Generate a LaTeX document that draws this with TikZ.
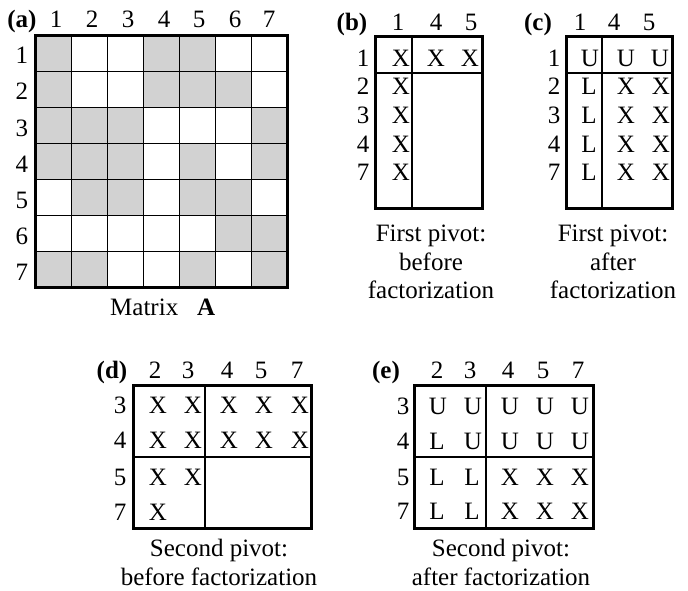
\documentclass[tikz,border=0pt]{standalone}
\usepackage{fontspec}
\setmainfont{Liberation Serif}
\usetikzlibrary{positioning}

\begin{document}
\begin{tikzpicture}[x=1pt,y=-1pt,
  ent/.style={font=\fontsize{25}{29}\selectfont,inner sep=0pt,anchor=base},
  tag/.style={ent,font=\fontsize{25}{29}\selectfont\bfseries},
  capt/.style={font=\fontsize{25}{28.5}\selectfont,inner sep=0pt,anchor=north,align=center},
  frame/.style={line width=3pt},
  thin line/.style={line width=1.2pt}]
\useasboundingbox (0,0) rectangle (688,591);

% (a) matrix A
\draw[fill=gray!35,draw=none] (35.5,35.5) rectangle (71.5,71.5);
\draw[fill=gray!35,draw=none] (143.5,35.5) rectangle (179.5,71.5);
\draw[fill=gray!35,draw=none] (179.5,35.5) rectangle (215.5,71.5);
\draw[fill=gray!35,draw=none] (35.5,71.5) rectangle (71.5,107.5);
\draw[fill=gray!35,draw=none] (143.5,71.5) rectangle (179.5,107.5);
\draw[fill=gray!35,draw=none] (179.5,71.5) rectangle (215.5,107.5);
\draw[fill=gray!35,draw=none] (215.5,71.5) rectangle (251.5,107.5);
\draw[fill=gray!35,draw=none] (35.5,107.5) rectangle (71.5,143.5);
\draw[fill=gray!35,draw=none] (71.5,107.5) rectangle (107.5,143.5);
\draw[fill=gray!35,draw=none] (107.5,107.5) rectangle (143.5,143.5);
\draw[fill=gray!35,draw=none] (251.5,107.5) rectangle (287.5,143.5);
\draw[fill=gray!35,draw=none] (35.5,143.5) rectangle (71.5,179.5);
\draw[fill=gray!35,draw=none] (71.5,143.5) rectangle (107.5,179.5);
\draw[fill=gray!35,draw=none] (107.5,143.5) rectangle (143.5,179.5);
\draw[fill=gray!35,draw=none] (179.5,143.5) rectangle (215.5,179.5);
\draw[fill=gray!35,draw=none] (251.5,143.5) rectangle (287.5,179.5);
\draw[fill=gray!35,draw=none] (71.5,179.5) rectangle (107.5,215.5);
\draw[fill=gray!35,draw=none] (107.5,179.5) rectangle (143.5,215.5);
\draw[fill=gray!35,draw=none] (179.5,179.5) rectangle (215.5,215.5);
\draw[fill=gray!35,draw=none] (215.5,179.5) rectangle (251.5,215.5);
\draw[fill=gray!35,draw=none] (215.5,215.5) rectangle (251.5,251.5);
\draw[fill=gray!35,draw=none] (251.5,215.5) rectangle (287.5,251.5);
\draw[fill=gray!35,draw=none] (35.5,251.5) rectangle (71.5,287.5);
\draw[fill=gray!35,draw=none] (71.5,251.5) rectangle (107.5,287.5);
\draw[fill=gray!35,draw=none] (179.5,251.5) rectangle (215.5,287.5);
\draw[fill=gray!35,draw=none] (251.5,251.5) rectangle (287.5,287.5);
\draw[thin line] (71.5,35.5) -- (71.5,287.5);
\draw[thin line] (107.5,35.5) -- (107.5,287.5);
\draw[thin line] (143.5,35.5) -- (143.5,287.5);
\draw[thin line] (179.5,35.5) -- (179.5,287.5);
\draw[thin line] (215.5,35.5) -- (215.5,287.5);
\draw[thin line] (251.5,35.5) -- (251.5,287.5);
\draw[thin line] (35.5,71.5) -- (287.5,71.5);
\draw[thin line] (35.5,107.5) -- (287.5,107.5);
\draw[thin line] (35.5,143.5) -- (287.5,143.5);
\draw[thin line] (35.5,179.5) -- (287.5,179.5);
\draw[thin line] (35.5,215.5) -- (287.5,215.5);
\draw[thin line] (35.5,251.5) -- (287.5,251.5);
\draw[frame] (35.5,35.5) rectangle (287.5,287.5);
\node[tag] (taga) at (22,28) {(a)};
\node[ent] (ac1) at (56,28) {1};
\node[ent] (ac2) at (92,28) {2};
\node[ent] (ac3) at (128,28) {3};
\node[ent] (ac4) at (164,28) {4};
\node[ent] (ac5) at (199,28) {5};
\node[ent] (ac6) at (235,28) {6};
\node[ent] (ac7) at (269,28) {7};
\node[ent] (ar1) at (22,64) {1};
\node[ent] (ar2) at (22,100) {2};
\node[ent] (ar3) at (22,136) {3};
\node[ent] (ar4) at (22,172) {4};
\node[ent] (ar5) at (22,208) {5};
\node[ent] (ar6) at (22,244) {6};
\node[ent] (ar7) at (22,280) {7};
\node[ent,anchor=base west] (capa) at (110,315) {Matrix\hspace{19pt}\textbf{A}};

% (b) first pivot, before
\draw[thin line] (375,73) -- (482,73);
\draw[thin line] (412,37) -- (412,208);
\draw[frame] (375,37) rectangle (482,208);
\node[tag] (tagb) at (352,31) {(b)};
\node[ent] (bc1) at (398,31) {1};
\node[ent] (bc4) at (436,31) {4};
\node[ent] (bc5) at (471,31) {5};
\node[ent] (br1) at (363,67) {1};
\node[ent] (br2) at (363,95) {2};
\node[ent] (br3) at (363,124) {3};
\node[ent] (br4) at (363,153) {4};
\node[ent] (br7) at (363,180) {7};
\node[ent] (b11) at (401,67) {X};
\node[ent] (b14) at (436,67) {X};
\node[ent] (b15) at (470,67) {X};
\node[ent] (b21) at (401,95) {X};
\node[ent] (b31) at (401,124) {X};
\node[ent] (b41) at (401,153) {X};
\node[ent] (b71) at (401,180) {X};
\node[capt] (capb) at (431,225) {First pivot:\\before\\factorization};

% (c) first pivot, after
\draw[thin line] (566,73) -- (672,73);
\draw[thin line] (602,37) -- (602,208);
\draw[frame] (566,37) rectangle (672,208);
\node[tag] (tagc) at (538,31) {(c)};
\node[ent] (cc1) at (580,31) {1};
\node[ent] (cc4) at (614,31) {4};
\node[ent] (cc5) at (649,31) {5};
\node[ent] (cr1) at (554,67) {1};
\node[ent] (cr2) at (554,95) {2};
\node[ent] (cr3) at (554,124) {3};
\node[ent] (cr4) at (554,153) {4};
\node[ent] (cr7) at (554,180) {7};
\node[ent] (c11) at (590,67) {U};
\node[ent] (c14) at (626,67) {U};
\node[ent] (c15) at (660,67) {U};
\node[ent] (c21) at (589,95) {L};
\node[ent] (c24) at (626,95) {X};
\node[ent] (c25) at (661,95) {X};
\node[ent] (c31) at (589,124) {L};
\node[ent] (c34) at (626,124) {X};
\node[ent] (c35) at (661,124) {X};
\node[ent] (c41) at (589,153) {L};
\node[ent] (c44) at (626,153) {X};
\node[ent] (c45) at (661,153) {X};
\node[ent] (c71) at (589,180) {L};
\node[ent] (c74) at (626,180) {X};
\node[ent] (c75) at (661,180) {X};
\node[capt] (capc) at (613,225) {First pivot:\\after\\factorization};

% (d) second pivot, before
\draw[thin line] (133,457) -- (311,457);
\draw[thin line] (205,385) -- (205,528);
\draw[frame] (133,385) rectangle (311,528);
\node[tag] (tagd) at (112,378) {(d)};
\node[ent] (dc2) at (155,378) {2};
\node[ent] (dc3) at (188,378) {3};
\node[ent] (dc4) at (227,378) {4};
\node[ent] (dc5) at (261,378) {5};
\node[ent] (dc7) at (297,378) {7};
\node[ent] (dr3) at (120,413) {3};
\node[ent] (dr4) at (120,448) {4};
\node[ent] (dr5) at (120,485) {5};
\node[ent] (dr7) at (120,520) {7};
\node[ent] (d32) at (158,413) {X};
\node[ent] (d33) at (193,413) {X};
\node[ent] (d34) at (229,413) {X};
\node[ent] (d35) at (264,413) {X};
\node[ent] (d37) at (300,413) {X};
\node[ent] (d42) at (158,448) {X};
\node[ent] (d43) at (193,448) {X};
\node[ent] (d44) at (229,448) {X};
\node[ent] (d45) at (264,448) {X};
\node[ent] (d47) at (300,448) {X};
\node[ent] (d52) at (158,485) {X};
\node[ent] (d53) at (193,485) {X};
\node[ent] (d72) at (158,520) {X};
\node[capt] (capd) at (219,539) {Second pivot:\\before factorization};

% (e) second pivot, after
\draw[thin line] (414,457) -- (593,457);
\draw[thin line] (486,385) -- (486,528);
\draw[frame] (414,385) rectangle (593,528);
\node[tag] (tage) at (386,378) {(e)};
\node[ent] (ec2) at (437,378) {2};
\node[ent] (ec3) at (470,378) {3};
\node[ent] (ec4) at (508,378) {4};
\node[ent] (ec5) at (543,378) {5};
\node[ent] (ec7) at (578,378) {7};
\node[ent] (er3) at (403,414) {3};
\node[ent] (er4) at (403,449) {4};
\node[ent] (er5) at (403,485) {5};
\node[ent] (er7) at (403,519) {7};
\node[ent] (e32) at (438,414) {U};
\node[ent] (e33) at (473,414) {U};
\node[ent] (e34) at (510,414) {U};
\node[ent] (e35) at (545,414) {U};
\node[ent] (e37) at (580,414) {U};
\node[ent] (e42) at (437,449) {L};
\node[ent] (e43) at (473,449) {U};
\node[ent] (e44) at (510,449) {U};
\node[ent] (e45) at (545,449) {U};
\node[ent] (e47) at (580,449) {U};
\node[ent] (e52) at (437,485) {L};
\node[ent] (e53) at (472,485) {L};
\node[ent] (e54) at (510,485) {X};
\node[ent] (e55) at (545,485) {X};
\node[ent] (e57) at (580,485) {X};
\node[ent] (e72) at (437,519) {L};
\node[ent] (e73) at (472,519) {L};
\node[ent] (e74) at (510,519) {X};
\node[ent] (e75) at (545,519) {X};
\node[ent] (e77) at (580,519) {X};
\node[capt] (cape) at (501,539) {Second pivot:\\after factorization};

\end{tikzpicture}
\end{document}
